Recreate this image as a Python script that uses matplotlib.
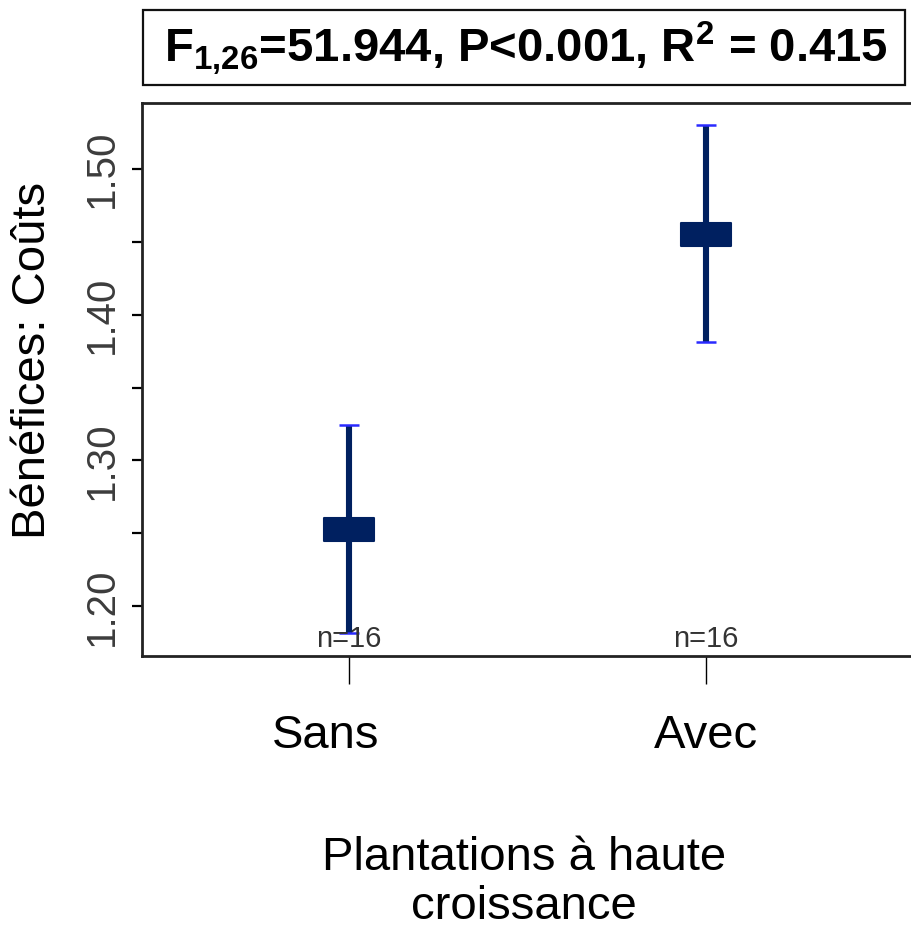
import numpy as np
import matplotlib
matplotlib.use("Agg")
import matplotlib.pyplot as plt
from matplotlib.path import Path
from matplotlib.patches import Rectangle
from matplotlib.transforms import ScaledTranslation, blended_transform_factory

plt.rcParams['font.family'] = ['Liberation Sans', 'DejaVu Sans']
plt.rcParams['mathtext.fontset'] = 'custom'
plt.rcParams['mathtext.rm'] = 'Liberation Sans:bold'
plt.rcParams['mathtext.bf'] = 'Liberation Sans:bold'
plt.rcParams['mathtext.it'] = 'Liberation Sans:bold'

# ---- data ----
categories = ['Sans', 'Avec']
means = [1.253, 1.455]
lower = [1.182, 1.381]
upper = [1.324, 1.530]
n_obs = [16, 16]
ytick_values = [1.20, 1.25, 1.30, 1.35, 1.40, 1.45, 1.50]
ytick_labels = ['1.20', '', '1.30', '', '1.40', '', '1.50']
title_text = r"F$_{1{,}26}$=51.944, P<0.001, R$^{2}$ = 0.415"
ylabel_text = "Bénéfices: Coûts"
xlabel_text = "Plantations à haute\ncroissance"

W, H = 911, 933
fig = plt.figure(figsize=(W / 100, H / 100), dpi=100)

def fx(px):
    return px / W

def fy(py):
    return 1 - py / H

ax = fig.add_axes([fx(142), fy(656), fx(913) - fx(142), fy(103) - fy(656)])

x = np.arange(1, len(categories) + 1)
m = np.array(means)
lo = np.array(lower)
up = np.array(upper)

navy = '#002060'
capblue = '#2a2aff'

eb = ax.errorbar(x, m, yerr=[m - lo, up - m], fmt='none', ecolor=navy,
                 elinewidth=4.4, capsize=7.2, capthick=1.8, zorder=2)
for c in eb[1]:
    c.set_color(capblue)
    c.set_markeredgecolor(capblue)
    c.set_markerfacecolor(capblue)
    c.set_zorder(3)
for bl in eb[2]:
    bl.set_capstyle('butt')

rect_marker = Path([(-1, -0.46), (1, -0.46), (1, 0.46), (-1, 0.46), (-1, -0.46)],
                   [Path.MOVETO, Path.LINETO, Path.LINETO, Path.LINETO, Path.CLOSEPOLY])
ax.plot(x, m, linestyle='none', marker=rect_marker, markersize=36,
        markerfacecolor=navy, markeredgecolor=navy, markeredgewidth=1.5,
        zorder=4)

ax.set_xlim(0.42, 2.58)
ax.set_ylim(1.166, 1.545)

# n= labels
trans = blended_transform_factory(ax.transData, ax.transAxes)
for xi, n in zip(x, n_obs):
    ax.text(xi, 0.016, f"n={n}", transform=trans, ha='center', va='baseline',
            fontsize=21, color='#333333', zorder=5)

# axes styling
for side in ['top', 'left', 'bottom']:
    ax.spines[side].set_linewidth(2.0)
    ax.spines[side].set_color('#222222')
ax.spines['right'].set_visible(False)

ax.set_yticks(ytick_values)
ax.set_yticklabels(ytick_labels)
ax.tick_params(axis='y', length=7, width=1.6, labelsize=29, labelcolor='#3c3c3c',
               pad=8, labelrotation=90)
for lab in ax.get_yticklabels():
    lab.set_va('center')

ax.set_xticks(x)
ax.set_xticklabels(categories)
ax.tick_params(axis='x', length=20, width=1.0, labelsize=34, pad=22)
ax.get_xticklabels()[0].set_transform(
    ax.get_xticklabels()[0].get_transform() + ScaledTranslation(-23 / 100, 0, fig.dpi_scale_trans))

# labels
fig.text(fx(33), fy(360), ylabel_text, rotation=90, ha='center', va='center', fontsize=34)
fig.text(fx(524), fy(836), xlabel_text, ha='center', va='top', fontsize=34,
         linespacing=1.15, multialignment='center')

# title box
fig.patches.append(Rectangle((fx(143), fy(85)), fx(905) - fx(143), fy(10) - fy(85),
                             transform=fig.transFigure, fill=False,
                             edgecolor='#111111', linewidth=1.6))
fig.text(fx(526), fy(48), title_text, ha='center', va='center', fontsize=34,
         fontweight='bold')

fig.savefig('out.png', dpi=100)
